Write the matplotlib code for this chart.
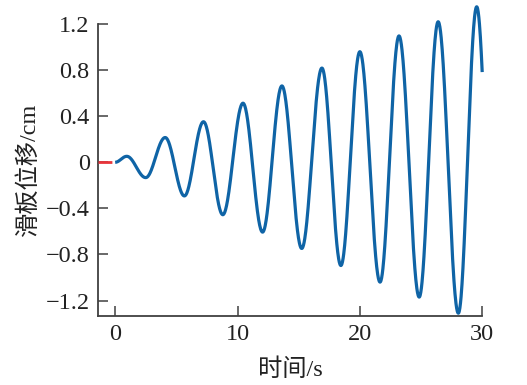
import numpy as np
import matplotlib
matplotlib.use("Agg")
import matplotlib.pyplot as plt

# Extrema of the slide-plate displacement (time in s, value in cm)
ext_t = [0.0, 0.95, 2.50, 4.09, 5.66, 7.22, 8.80, 10.45, 12.05, 13.63, 15.25,
         16.90, 18.45, 20.00, 21.65, 23.20, 24.85, 26.40, 28.05, 29.55, 31.05]
ext_v = [0.0, 0.052, -0.133, 0.215, -0.292, 0.352, -0.455, 0.513, -0.606, 0.663, -0.748,
         0.818, -0.896, 0.960, -1.040, 1.097, -1.170, 1.220, -1.310, 1.350, -1.400]
t_end = 30.0

# red dashed pre-segment
pre_t = [-1.4, 0.0]
pre_v = [0.0, 0.0]

xticks = [0, 10, 20, 30]
yticks = [-1.2, -0.8, -0.4, 0, 0.4, 0.8, 1.2]
ytick_labels = ["\u22121.2", "\u22120.8", "\u22120.4", "0", "0.4", "0.8", "1.2"]

# smooth half-cosine segments between read extrema
ts, vs = [], []
for i in range(len(ext_t) - 1):
    a, b = ext_t[i], ext_t[i + 1]
    tt = np.linspace(a, b, 60, endpoint=False)
    ph = (tt - a) / (b - a) * np.pi
    vv = ext_v[i] + (ext_v[i + 1] - ext_v[i]) * (1 - np.cos(ph)) / 2
    ts.append(tt); vs.append(vv)
ts = np.concatenate(ts); vs = np.concatenate(vs)
m = ts <= t_end
ts, vs = ts[m], vs[m]

serif = ['Liberation Serif', 'Noto Sans CJK SC']
plt.rcParams['font.family'] = serif

fig = plt.figure(figsize=(5.27, 3.85), dpi=100)
ax = fig.add_axes([0.186, 0.1805, 0.729, 0.757])

ax.plot(pre_t, pre_v, color='#e8343a', lw=2.0, dashes=(5.0, 1.6), clip_on=False, zorder=3)
ax.plot(ts, vs, color='#0f64a6', lw=2.3, clip_on=False, zorder=4, solid_capstyle='butt')

ax.set_xlim(-1.4, 30)
ax.set_ylim(-1.33, 1.2)
ax.set_xticks(xticks)
ax.set_yticks(yticks)
ax.set_yticklabels(ytick_labels)

for s in ['top', 'right']:
    ax.spines[s].set_visible(False)
for s in ['left', 'bottom']:
    ax.spines[s].set_color('#404040')
    ax.spines[s].set_linewidth(1.3)
ax.tick_params(direction='in', length=7, width=1.1, color='#404040',
               labelsize=17.5, labelcolor='#222222', pad=6)

ax.set_xlabel('时间/s', fontsize=17.5, color='#222222', labelpad=10)
ax.set_ylabel('滑板位移/cm', fontsize=17.5, color='#222222', labelpad=4)

fig.savefig('out.png', dpi=100)
